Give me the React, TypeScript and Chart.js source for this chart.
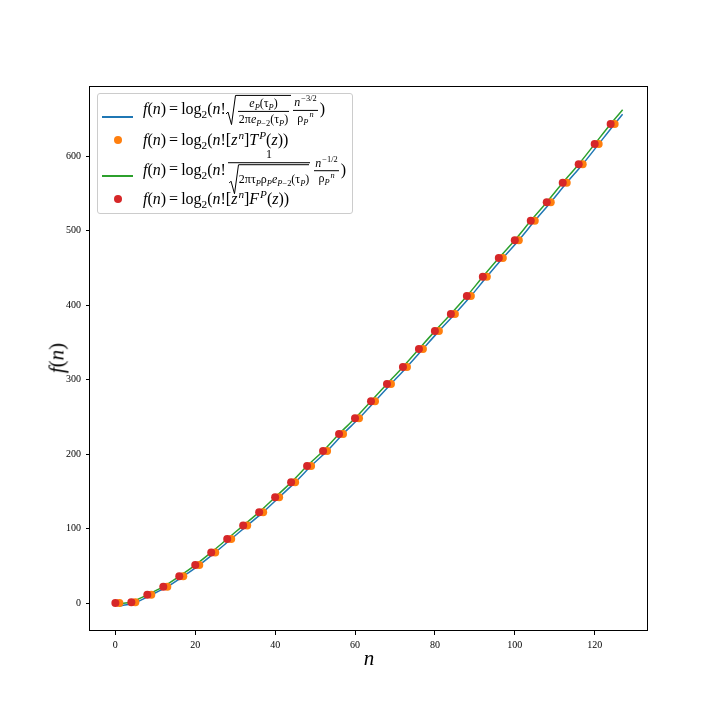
import React, { useEffect, useRef } from "react";
import { Chart, registerables } from "chart.js";

Chart.register(...registerables);

// ---- data ----
const redN = [0, 4, 8, 12, 16, 20, 24, 28, 32, 36, 40, 44, 48, 52, 56, 60, 64, 68, 72, 76, 80, 84, 88, 92, 96, 100, 104, 108, 112, 116, 120, 124];
const redVals = [0, 1, 11, 22, 36, 51, 68, 86, 104, 122, 142, 162, 184, 204, 227, 248, 271, 294, 317, 341, 365, 388, 412, 438, 463, 487, 513, 538, 564, 589, 616, 643];

const orangeN = [1, 5, 9, 13, 17, 21, 25, 29, 33, 37, 41, 45, 49, 53, 57, 61, 65, 69, 73, 77, 81, 85, 89, 93, 97, 101, 105, 109, 113, 117, 121, 125];
const orangeVals = [0, 1, 11, 22, 36, 51, 68, 86, 104, 122, 142, 162, 184, 204, 227, 248, 271, 294, 317, 341, 365, 388, 412, 438, 463, 487, 513, 538, 564, 589, 616, 643];

const greenN = [1, 4, 8, 12, 16, 20, 24, 28, 32, 36, 40, 44, 48, 52, 56, 60, 64, 68, 72, 76, 80, 84, 88, 92, 96, 100, 104, 108, 112, 116, 120, 124, 127];
const greenVals = [-1, 1.5, 11, 22, 36, 51, 68, 86, 104, 122, 142, 162, 184, 204, 227, 248, 271, 294, 317, 341, 365, 388, 412, 438, 463, 487, 513, 538, 564, 589, 616, 643, 662];

const blueN = [1, 2, 5, 9, 13, 17, 21, 25, 29, 33, 37, 41, 45, 49, 53, 57, 61, 65, 69, 73, 77, 81, 85, 89, 93, 97, 101, 105, 109, 113, 117, 121, 125, 127];
const blueVals = [-4, -3, 0.5, 11, 22, 36, 51, 68, 86, 104, 122, 142, 162, 184, 204, 227, 248, 271, 294, 317, 341, 365, 388, 412, 438, 463, 487, 513, 538, 564, 589, 616, 643, 656];

const xTicks = [0, 20, 40, 60, 80, 100, 120];
const yTicks = [0, 100, 200, 300, 400, 500, 600];
const xRange = [-6.35, 133.35];
const yRange = [-37.5, 694];

const COLORS = { blue: "#1f77b4", orange: "#ff7f0e", green: "#2ca02c", red: "#d62728" };
const FONT = '"Liberation Serif", "DejaVu Serif", serif';

const pts = (xs: number[], ys: number[]) => xs.map((x, i) => ({ x, y: ys[i] }));

// ---- small math-typesetting helpers for the legend ----
const I = ({ children }: any) => <span style={{ fontStyle: "italic" }}>{children}</span>;
const Sub = ({ children }: any) => (
  <span style={{ fontSize: "0.7em", verticalAlign: "-0.35em", lineHeight: 0 }}>{children}</span>
);
const Sup = ({ children }: any) => (
  <span style={{ fontSize: "0.7em", verticalAlign: "0.55em", lineHeight: 0, marginLeft: 1 }}>{children}</span>
);
const Frac = ({ num, den, size }: any) => (
  <span
    style={{
      display: "inline-flex",
      flexDirection: "column",
      alignItems: "stretch",
      verticalAlign: "middle",
      fontSize: size,
      lineHeight: 1.05,
      margin: "0 2px",
    }}
  >
    <span style={{ borderBottom: "1px solid #000", textAlign: "center", padding: "0 1px 1px" }}>{num}</span>
    <span style={{ textAlign: "center", padding: "1px 1px 0" }}>{den}</span>
  </span>
);
const Sqrt = ({ children }: any) => (
  <span style={{ display: "inline-flex", alignItems: "stretch", verticalAlign: "middle" }}>
    <svg width="10" style={{ alignSelf: "stretch", height: "auto" }} viewBox="0 0 10 30" preserveAspectRatio="none">
      <polyline points="0,19 2,17 5.5,29.5 9.5,0.5 10,0.5" fill="none" stroke="#000" strokeWidth="1" vectorEffect="non-scaling-stroke" />
    </svg>
    <span style={{ borderTop: "1px solid #000", display: "inline-flex", alignItems: "center", paddingTop: 1 }}>{children}</span>
  </span>
);

const rowStyle = (top: number): React.CSSProperties => ({
  position: "absolute",
  left: 143,
  top,
  fontSize: 16,
  whiteSpace: "nowrap",
  lineHeight: "16px",
  transform: "translateY(-50%)",
});

const Eq = () => <span style={{ margin: "0 3px" }}>=</span>;
const P = () => <I>P</I>;

export default function App() {
  const canvasRef = useRef<HTMLCanvasElement | null>(null);

  useEffect(() => {
    const canvas = canvasRef.current;
    if (!canvas) return;

    const framePlugin = {
      id: "frame",
      afterDraw(chart: any) {
        const { ctx, chartArea } = chart;
        ctx.save();
        ctx.strokeStyle = "#000";
        ctx.lineWidth = 1;
        ctx.strokeRect(
          Math.round(chartArea.left) - 0.5,
          Math.round(chartArea.top) + 0.5,
          Math.round(chartArea.right - chartArea.left),
          Math.round(chartArea.bottom - chartArea.top) - 1
        );
        ctx.restore();
      },
    };

    const chart = new Chart(canvas, {
      type: "scatter",
      data: {
        datasets: [
          {
            label: "red",
            data: pts(redN, redVals),
            backgroundColor: COLORS.red,
            borderColor: COLORS.red,
            pointRadius: 4,
            pointBorderWidth: 0,
            showLine: false,
            order: 1,
          },
          {
            label: "orange",
            data: pts(orangeN, orangeVals),
            backgroundColor: COLORS.orange,
            borderColor: COLORS.orange,
            pointRadius: 4,
            pointBorderWidth: 0,
            showLine: false,
            order: 2,
          },
          {
            label: "green",
            data: pts(greenN, greenVals),
            borderColor: COLORS.green,
            backgroundColor: COLORS.green,
            borderWidth: 1.5,
            pointRadius: 0,
            showLine: true,
            cubicInterpolationMode: "monotone",
            order: 3,
          },
          {
            label: "blue",
            data: pts(blueN, blueVals),
            borderColor: COLORS.blue,
            backgroundColor: COLORS.blue,
            borderWidth: 1.5,
            pointRadius: 0,
            showLine: true,
            cubicInterpolationMode: "monotone",
            order: 4,
          },
        ] as any,
      },
      options: {
        responsive: false,
        animation: false,
        devicePixelRatio: 1,
        layout: { padding: { left: 0, top: 86, right: 72, bottom: 0 } },
        plugins: { legend: { display: false }, tooltip: { enabled: false } },
        scales: {
          x: {
            type: "linear",
            min: xRange[0],
            max: xRange[1],
            afterFit: (s: any) => {
              s.height = 89;
            },
            afterBuildTicks: (s: any) => {
              s.ticks = xTicks.map((v) => ({ value: v }));
            },
            ticks: {
              color: "#000",
              font: { family: FONT, size: 10 },
              padding: 4,
              maxRotation: 0,
              autoSkip: false,
            },
            grid: { drawOnChartArea: false, drawTicks: true, tickLength: 4, color: "#000" },
            border: { display: false },
          },
          y: {
            type: "linear",
            min: yRange[0],
            max: yRange[1],
            afterFit: (s: any) => {
              s.width = 90;
            },
            afterBuildTicks: (s: any) => {
              s.ticks = yTicks.map((v) => ({ value: v }));
            },
            ticks: {
              color: "#000",
              font: { family: FONT, size: 10 },
              padding: 5,
              autoSkip: false,
            },
            grid: { drawOnChartArea: false, drawTicks: true, tickLength: 4, color: "#000" },
            border: { display: false },
          },
        },
      },
      plugins: [framePlugin],
    });

    return () => chart.destroy();
  }, []);

  return (
    <div style={{ position: "absolute", left: 0, top: 0, width: 720, height: 720, background: "#fff", fontFamily: FONT }}>
      <canvas ref={canvasRef} width={720} height={720} style={{ width: 720, height: 720, display: "block" }} />

      {/* axis titles */}
      <div style={{ position: "absolute", left: 369, top: 658, transform: "translate(-50%,-50%)", fontSize: 21, fontStyle: "italic" }}>
        n
      </div>
      <div
        style={{
          position: "absolute",
          left: 57,
          top: 358,
          transform: "translate(-50%,-50%) rotate(-90deg)",
          fontSize: 21,
          whiteSpace: "nowrap",
        }}
      >
        <I>f</I>(<I>n</I>)
      </div>

      {/* legend */}
      <div
        style={{
          position: "absolute",
          left: 97,
          top: 93,
          width: 254,
          height: 119,
          border: "1px solid #cccccc",
          borderRadius: 3,
          background: "rgba(255,255,255,0.8)",
        }}
      />
      <div style={{ position: "absolute", left: 102, top: 116, width: 31, height: 2, background: COLORS.blue }} />
      <div style={{ position: "absolute", left: 114, top: 136, width: 8, height: 8, borderRadius: 4, background: COLORS.orange }} />
      <div style={{ position: "absolute", left: 102, top: 175, width: 31, height: 2, background: COLORS.green }} />
      <div style={{ position: "absolute", left: 114, top: 195, width: 8, height: 8, borderRadius: 4, background: COLORS.red }} />

      <div style={rowStyle(110)}>
        <I>f</I>(<I>n</I>)<Eq />log<Sub>2</Sub>(<I>n</I>!
        <Sqrt>
          <Frac
            size={12}
            num={
              <>
                <I>e</I>
                <Sub><P /></Sub>(τ<Sub><P /></Sub>)
              </>
            }
            den={
              <>
                2π<I>e</I>
                <Sub><P />−2</Sub>(τ<Sub><P /></Sub>)
              </>
            }
          />
        </Sqrt>
        <Frac
          size={12}
          num={
            <>
              <I>n</I>
              <Sup>−3/2</Sup>
            </>
          }
          den={
            <>
              ρ<Sub><P /></Sub>
              <Sup><I>n</I></Sup>
            </>
          }
        />
        )
      </div>
      <div style={rowStyle(140)}>
        <I>f</I>(<I>n</I>)<Eq />log<Sub>2</Sub>(<I>n</I>![<I>z</I>
        <Sup><I>n</I></Sup>]<I>T</I>
        <Sup><P /></Sup>(<I>z</I>))
      </div>
      <div style={rowStyle(171)}>
        <I>f</I>(<I>n</I>)<Eq />log<Sub>2</Sub>(<I>n</I>!
        <Frac
          size={12}
          num={<>1</>}
          den={
            <Sqrt>
              <span>
                2πτ<Sub><P /></Sub>ρ<Sub><P /></Sub>
                <I>e</I>
                <Sub><P />−2</Sub>(τ<Sub><P /></Sub>)
              </span>
            </Sqrt>
          }
        />
        <Frac
          size={12}
          num={
            <>
              <I>n</I>
              <Sup>−1/2</Sup>
            </>
          }
          den={
            <>
              ρ<Sub><P /></Sub>
              <Sup><I>n</I></Sup>
            </>
          }
        />
        )
      </div>
      <div style={rowStyle(199)}>
        <I>f</I>(<I>n</I>)<Eq />log<Sub>2</Sub>(<I>n</I>![<I>z</I>
        <Sup><I>n</I></Sup>]<I>F</I>
        <Sup><P /></Sup>(<I>z</I>))
      </div>
    </div>
  );
}
